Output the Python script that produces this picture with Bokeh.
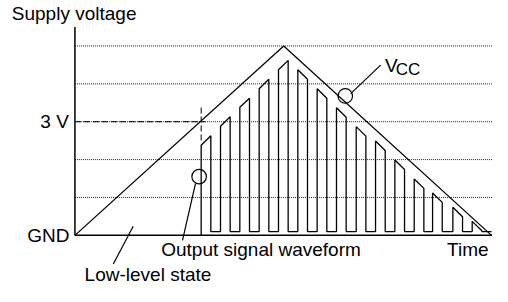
from bokeh.plotting import figure
from bokeh.core.properties import value
from bokeh.embed import file_html
from bokeh.resources import INLINE

# ---------------- data ----------------
# supply voltage ramp (time units, volts)
vcc_time = [0.0, 10.8, 21.55]
vcc_volt = [0.0, 5.0, 0.0]

# dotted reference levels (volts)
grid_levels = [1, 2, 3, 4, 5]

# output pulse train: rise / fall instants and top-edge voltages
pulse_rise = [6.53, 7.53, 8.53, 9.53, 10.53, 11.53, 12.53, 13.53,
              14.55, 15.55, 16.55, 17.55, 18.5, 19.55, 20.55]
pulse_fall = [7.03, 8.03, 9.03, 10.03, 11.03, 12.03, 13.03, 14.03,
              15.05, 16.05, 17.05, 18.05, 19.0, 20.05, 21.05]
pulse_top_start = [2.38, 2.88, 3.38, 3.87, 4.37, 4.37, 3.87, 3.37,
                   2.87, 2.49, 1.99, 1.49, 1.12, 0.74, 0.37]
pulse_top_end = [2.63, 3.13, 3.62, 4.12, 4.62, 4.12, 3.62, 3.12,
                 2.62, 2.24, 1.74, 1.24, 0.87, 0.49, 0.12]
low_level = 0.1
threshold_v = 3

y_tick_values = [0, 3]
y_tick_labels = ["GND", "3 V"]

T_END = vcc_time[-1]
V_AXIS_TOP = 5.5
FONT = value("Liberation Sans")
FS = value("19px")

p = figure(width=492, height=286, x_range=(-3.85, 21.6), y_range=(-1.35, 6.2),
           title=None, output_backend="svg", toolbar_location=None, min_border=0,
           x_axis_location=None, y_axis_location=None,
           outline_line_color=None, background_fill_color="white",
           border_fill_color="white")
for g in p.grid:
    g.visible = False

# dotted horizontal levels
p.segment(x0=[0] * len(grid_levels), y0=grid_levels,
          x1=[T_END + 0.1] * len(grid_levels), y1=grid_levels,
          line_color="#222222", line_width=1, line_dash="1 1")

# 3 V dashed marker lines
p.segment(x0=[0, pulse_rise[0]], y0=[threshold_v, 3.375],
          x1=[6.75, pulse_rise[0]], y1=[threshold_v, 2.45],
          line_color="black", line_width=1, line_dash="6 3")

# axes
p.line([0, 0], [0, V_AXIS_TOP], line_color="black", line_width=1.5)
p.line([0, T_END + 0.1], [0, 0], line_color="black", line_width=1.5)

# Vcc triangle
p.line(vcc_time, vcc_volt, line_color="black", line_width=1.3)

# output waveform
wx = [pulse_rise[0]]
wy = [0.0]
for k in range(len(pulse_rise)):
    if k > 0:
        wx.append(pulse_rise[k]); wy.append(low_level)
    wx += [pulse_rise[k], pulse_fall[k], pulse_fall[k]]
    wy += [pulse_top_start[k], pulse_top_end[k], low_level]
wx.append(T_END); wy.append(low_level)
p.line(wx, wy, line_color="black", line_width=1.3)

# callout circles and leaders
p.scatter(x=[13.985, 6.425], y=[3.68, 1.55], size=14.5, marker="circle",
          fill_color=None, line_color="black", line_width=1.2)
p.segment(x0=[14.265, 6.235, 3.015], y0=[3.7425, 1.3675, 0.2425],
          x1=[15.815, 5.565, 1.985], y1=[4.4925, -0.1325, -0.7575],
          line_color="black", line_width=1.2)

# y labels (centred on their levels)
p.text(x=[-0.28, -0.315], y=y_tick_values, text=y_tick_labels,
       text_align="right", text_baseline="middle",
       text_font=FONT, text_font_size=FS, text_color="black")

# other texts
p.text(x=[-3.265, 4.465, 19.25, 0.5, 16.04],
       y=[5.86, -0.385, -0.385, -1.03, 4.49],
       text=["Supply voltage", "Output signal waveform", "Time", "Low-level state", "V"],
       text_align="left", text_baseline="middle",
       text_font=FONT, text_font_size=FS, text_color="black")
p.text(x=[16.6], y=[4.37], text=["CC"], text_align="left",
       text_baseline="middle", text_font=FONT,
       text_font_size=value("17px"), text_color="black")

open("out.html", "w").write(file_html(p, INLINE))
